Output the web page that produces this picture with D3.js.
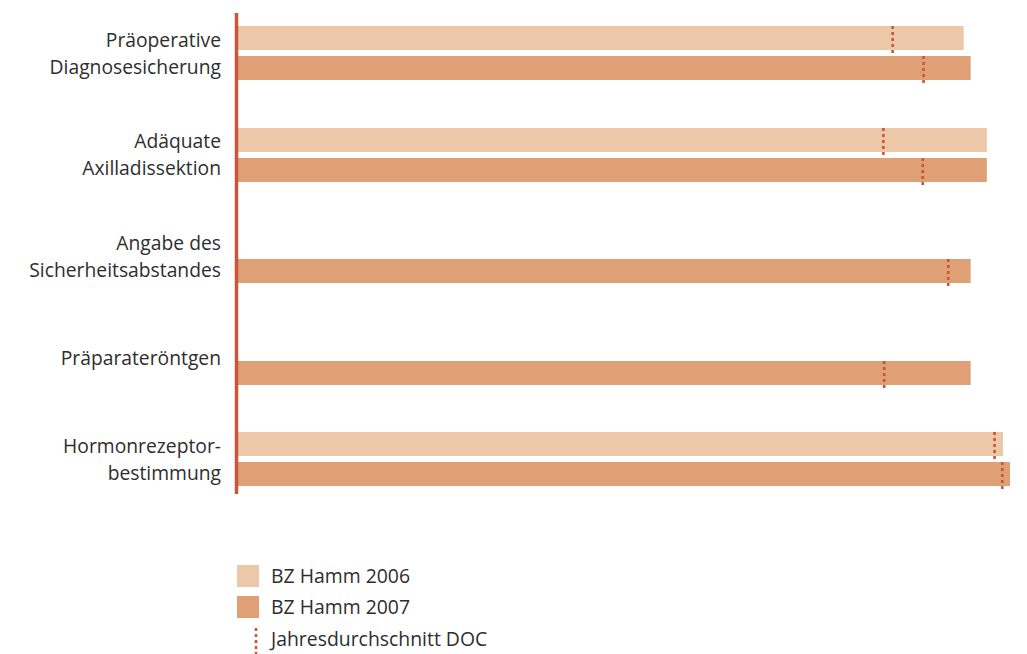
<!DOCTYPE html>
<html><head><meta charset="utf-8">
<script src="https://cdn.jsdelivr.net/npm/d3@7"></script>
<style>body{margin:0;background:#fff}svg{display:block}text{font-family:"Open Sans",sans-serif;fill:#2e2e2e}</style>
</head><body><svg id="c" width="1027" height="654"></svg>
<script>
const categories = [["Präoperative","Diagnosesicherung"],["Adäquate","Axilladissektion"],["Angabe des","Sicherheitsabstandes"],["Präparateröntgen"],["Hormonrezeptor-","bestimmung"]];
const catKeys = ["praeop","axilla","abstand","roentgen","hormon"];
const years = ["2006","2007"];
const values2006 = [94.0, 97.0, null, null, 99.1];
const values2007 = [94.9, 97.0, 94.9, 94.9, 100];
const doc2006 = [84.8, 83.6, null, null, 98.0];
const doc2007 = [88.8, 88.7, 92.0, 83.7, 99.0];
const legendLabels = ["BZ Hamm 2006","BZ Hamm 2007","Jahresdurchschnitt DOC"];

const colors = {"2006":"#ecc8a9","2007":"#dea074"};
const markerColor = "#c9553a";
const svg = d3.select("#c");
const x = d3.scaleLinear().domain([0,100]).range([238,1010]);
const y = d3.scaleBand().domain(catKeys).range([26, 26+5*101.5]).paddingInner(0);
const yi = d3.scaleBand().domain(years).range([0,54]).paddingInner(0.2);

const rows = [];
catKeys.forEach((k,i)=>{
  rows.push({k, yr:"2006", v:values2006[i], d:doc2006[i]});
  rows.push({k, yr:"2007", v:values2007[i], d:doc2007[i]});
});
const bars = rows.filter(r=>r.v!=null);
svg.append("g").selectAll("rect").data(bars).join("rect")
  .attr("x", x(0)).attr("y", r=>Math.round(y(r.k)+yi(r.yr)))
  .attr("width", r=>x(r.v)-x(0)).attr("height", yi.bandwidth())
  .attr("fill", r=>colors[r.yr]);
svg.append("g").selectAll("line").data(rows.filter(r=>r.d!=null)).join("line")
  .attr("x1", r=>x(r.d)).attr("x2", r=>x(r.d))
  .attr("y1", r=>Math.round(y(r.k)+yi(r.yr))).attr("y2", r=>Math.round(y(r.k)+yi(r.yr))+yi.bandwidth()+3)
  .attr("stroke", markerColor).attr("stroke-width",2.6).attr("stroke-dasharray","3,3");

// axis line
svg.append("line").attr("x1",236.5).attr("x2",236.5).attr("y1",13).attr("y2",494)
  .attr("stroke",markerColor).attr("stroke-width",3.5);

// labels
const lab = svg.append("g").selectAll("text").data(catKeys).join("text")
  .attr("text-anchor","end").attr("font-size",19.3)
  .attr("transform", k=>`translate(221,${y(k)+27})`);
lab.each(function(k,i){
  const lines = categories[i];
  const t = d3.select(this);
  lines.forEach((ln,j)=>{
    const off = (j - (lines.length-1)/2)*27 + 7;
    t.append("tspan").attr("x",0).attr("y",off).text(ln);
  });
});

// legend
const lg = svg.append("g");
[["2006",565],["2007",596]].forEach(([yr,yy],i)=>{
  lg.append("rect").attr("x",237).attr("y",yy).attr("width",22).attr("height",22).attr("fill",colors[yr]);
  lg.append("text").attr("x",271).attr("y",yy+18).attr("font-size",19.4).text(legendLabels[i]);
});
lg.append("line").attr("x1",256).attr("x2",256).attr("y1",628).attr("y2",654)
  .attr("stroke",markerColor).attr("stroke-width",2.6).attr("stroke-dasharray","3,3");
lg.append("text").attr("x",271).attr("y",646).attr("font-size",19.4).text(legendLabels[2]);
</script></body></html>
